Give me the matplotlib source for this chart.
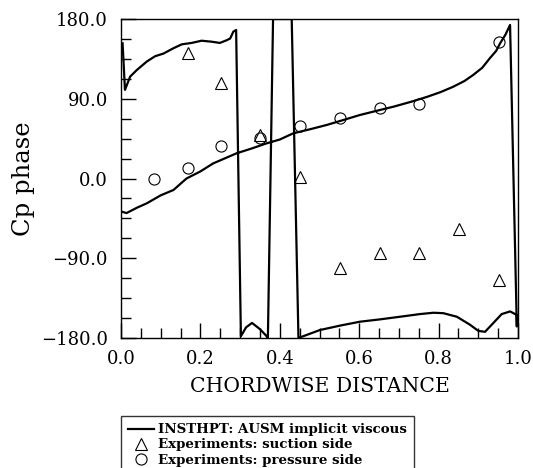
import matplotlib as mpl
mpl.use("Agg")
import matplotlib.pyplot as plt
from matplotlib.ticker import MultipleLocator, FuncFormatter

mpl.rcParams.update({
    'font.family': 'serif',
    'font.serif': ['DejaVu Serif'],
})

# INSTHPT result, one closed path: pressure side LE->TE, then suction side TE->LE
calc_x = [0.002, 0.014, 0.040, 0.065, 0.100, 0.132, 0.165, 0.200, 0.232, 0.291,
          0.330, 0.367, 0.400, 0.434, 0.480, 0.518, 0.560, 0.602, 0.645, 0.686,
          0.730, 0.770, 0.805, 0.837, 0.865, 0.887, 0.910, 0.929, 0.945, 0.955,
          0.968, 0.980,
          0.997, 0.997, 0.980, 0.959, 0.938, 0.917, 0.900, 0.879, 0.846, 0.812,
          0.787, 0.753, 0.703, 0.652, 0.602, 0.552, 0.501, 0.447,
          0.430, 0.383, 0.370, 0.367, 0.350, 0.330, 0.315, 0.302,
          0.290, 0.283, 0.275, 0.266, 0.249, 0.228, 0.203, 0.178, 0.153, 0.132,
          0.107, 0.086, 0.065, 0.040, 0.023, 0.010, 0.004]
calc_y = [-37.5, -39.0, -33.0, -28.0, -19.0, -13.0, 0.0, 8.0, 17.0, 28.4,
          34.0, 39.7, 44.0, 51.0, 56.0, 60.4, 66.0, 71.7, 76.5, 81.0,
          86.5, 92.0, 97.5, 103.6, 110.0, 116.8, 125.0, 135.7, 144.0, 152.6,
          162.0, 173.3,
          -167.0, -154.0, -150.0, -153.0, -163.0, -173.0, -172.0, -165.0, -156.0, -152.0,
          -151.5, -153.0, -156.0, -159.0, -161.6, -166.0, -171.0, -180.0,
          180.0, 180.0, -180.0, -178.0, -170.0, -163.0, -168.0, -178.0,
          167.6, 165.7, 158.0, 156.0, 153.0, 154.4, 155.5, 153.0, 151.4, 147.0,
          141.0, 138.0, 132.0, 122.5, 115.0, 100.0, 152.6]

# experiments
suction_x = [0.168, 0.251, 0.351, 0.451, 0.552, 0.652, 0.750, 0.852, 0.952]
suction_y = [142.0, 107.4, 49.0, 2.0, -101.0, -84.0, -84.0, -57.0, -114.6]
pressure_x = [0.083, 0.168, 0.251, 0.350, 0.450, 0.552, 0.652, 0.750, 0.952]
pressure_y = [0.0, 12.0, 37.0, 45.7, 59.0, 68.0, 80.0, 84.0, 154.0]


def one_decimal(v, pos):
    return ('%.1f' % v).replace('-', '\u2212')


fig = plt.figure(figsize=(5.33, 4.68), dpi=100)
ax = fig.add_axes([121/533, 1 - 338/468, 397/533, 319/468])

ax.plot(calc_x, calc_y, color='black', linewidth=1.6,
        label='INSTHPT: AUSM implicit viscous')
ax.plot(suction_x, suction_y, linestyle='none', marker='^', markersize=8,
        markerfacecolor='none', markeredgecolor='black', markeredgewidth=0.8,
        label='Experiments: suction side')
ax.plot(pressure_x, pressure_y, linestyle='none', marker='o', markersize=8,
        markerfacecolor='none', markeredgecolor='black', markeredgewidth=0.8,
        label='Experiments: pressure side')

ax.set_xlim(0.0, 1.0)
ax.set_ylim(-180.0, 180.0)
ax.xaxis.set_major_locator(MultipleLocator(0.2))
ax.xaxis.set_minor_locator(MultipleLocator(0.05))
ax.yaxis.set_major_locator(MultipleLocator(90.0))
ax.yaxis.set_minor_locator(MultipleLocator(22.5))
ax.xaxis.set_major_formatter(FuncFormatter(one_decimal))
ax.yaxis.set_major_formatter(FuncFormatter(one_decimal))
ax.tick_params(which='both', direction='in', top=False, right=False,
               labelsize=13, width=1.0)
ax.tick_params(which='major', length=11)
ax.tick_params(which='minor', length=7)
ax.tick_params(axis='x', which='major', pad=9)
ax.tick_params(axis='y', which='major', pad=9.5)
for s in ax.spines.values():
    s.set_linewidth(1.0)

ax.set_xlabel('CHORDWISE DISTANCE', fontsize=14.7, labelpad=6)
ax.set_ylabel('Cp phase', fontsize=17.5, labelpad=4)

# legend box runs off the bottom of the figure
leg = fig.legend(loc='upper left', bbox_to_anchor=(121/533, 1 - 416/468),
                 frameon=True, fancybox=False, edgecolor='black',
                 prop={'weight': 'bold', 'size': 9.6}, handlelength=1.9,
                 handletextpad=0.3, labelspacing=0.16, borderpad=0.55,
                 borderaxespad=0.0)
leg.get_frame().set_linewidth(1.0)

fig.savefig('out.png', dpi=100)
